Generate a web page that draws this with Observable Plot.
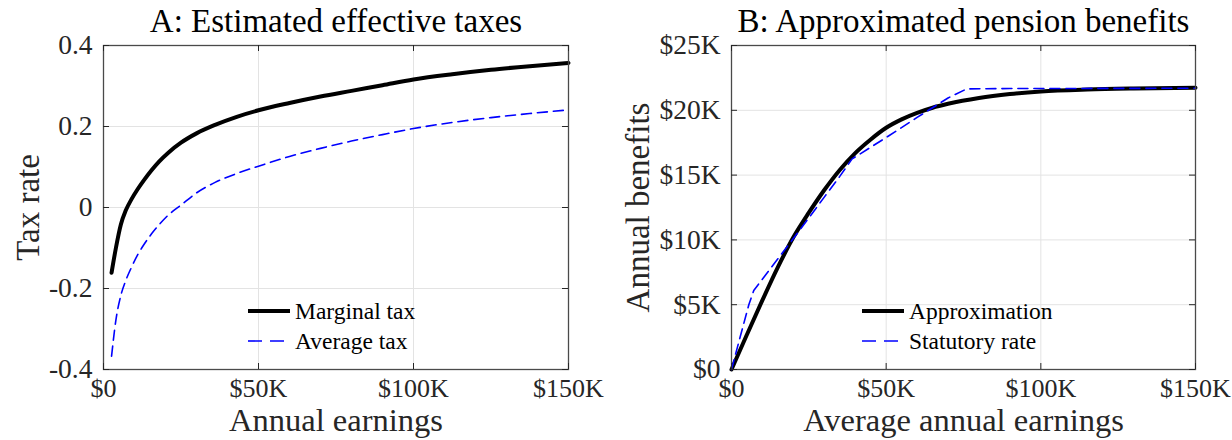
<!DOCTYPE html>
<html>
<head>
<meta charset="utf-8">
<script src="https://cdn.jsdelivr.net/npm/d3@7"></script>
<script src="https://cdn.jsdelivr.net/npm/@observablehq/plot@0.6"></script>
<style>
  html, body { margin: 0; padding: 0; background: #fff; }
  #wrap { position: relative; width: 1232px; height: 440px; overflow: hidden; font-family: "Liberation Serif", "Times New Roman", serif; }
  #wrap svg, #wrap svg text, #wrap svg g { font-family: "Liberation Serif", "Times New Roman", serif !important; }
  .panel { position: absolute; top: 0; width: 616px; height: 440px; }
  .legend { position: absolute; font-family: "Liberation Serif", serif; font-size: 23.5px; color: #000; line-height: 30px; }
  .legend .row { display: flex; align-items: center; height: 30px; }
  .legend svg { margin-right: 3px; }
</style>
</head>
<body>
<div id="wrap">
  <div id="left" class="panel" style="left:0"></div>
  <div id="right" class="panel" style="left:616px"></div>
</div>
<script>
// ---------- Panel A data ----------
const taxEarnings = [2600, 4000, 5600, 7200, 9000, 11000, 13000, 15500, 18000, 21000, 25000, 30000, 36000, 43000, 50000, 60000, 70000, 80000, 90000, 100000, 112500, 125000, 137500, 150000];
const marginalTax = [-0.161, -0.100, -0.042, -0.007, 0.020, 0.045, 0.067, 0.092, 0.114, 0.136, 0.160, 0.183, 0.204, 0.224, 0.240, 0.258, 0.274, 0.288, 0.302, 0.316, 0.329, 0.340, 0.349, 0.357];
const averageTax = [-0.367, -0.278, -0.217, -0.180, -0.148, -0.117, -0.092, -0.065, -0.042, -0.018, 0.006, 0.036, 0.062, 0.084, 0.102, 0.126, 0.146, 0.164, 0.180, 0.195, 0.210, 0.222, 0.232, 0.241];
const taxXTicks = [0, 50000, 100000, 150000];
const taxYTicks = [-0.4, -0.2, 0, 0.2, 0.4];

// ---------- Panel B data ----------
const approxEarnings = [0, 5000, 10000, 15000, 20000, 25000, 30000, 35000, 40000, 45000, 50000, 55000, 60000, 65000, 70000, 80000, 90000, 100000, 115000, 130000, 150000];
const approxBenefits = [0, 2700, 5350, 7900, 10200, 12100, 13850, 15400, 16700, 17750, 18650, 19300, 19800, 20200, 20500, 20950, 21250, 21450, 21600, 21680, 21740];
const statEarnings = [0, 2900, 5600, 7200, 10400, 15000, 20000, 25000, 30000, 35000, 39000, 50000, 60000, 70000, 76000, 90000, 150000];
const statBenefits = [0, 2600, 5000, 6100, 7100, 8550, 10100, 11700, 13300, 14900, 16250, 17900, 19450, 20950, 21650, 21680, 21700];
const benXTicks = [0, 50000, 100000, 150000];
const benYTicks = [0, 5000, 10000, 15000, 20000, 25000];

const titles = ["A: Estimated effective taxes", "B: Approximated pension benefits"];
const xLabels = ["Annual earnings", "Average annual earnings"];
const yLabels = ["Tax rate", "Annual benefits"];
const legendA = ["Marginal tax", "Average tax"];
const legendB = ["Approximation", "Statutory rate"];

const FONT = "Liberation Serif";
const AXIS = "#262626";
const GRID = "#e3e3e3";
const BLUE = "#0000ff";

const dollarK = d => d === 0 ? "$0" : "$" + (d / 1000) + "K";
const plain = d => String(d);

function panel({xTicks, yTicks, yDomain, yFmt, marginLeft, marginRight, title, xLabel, yLabel, yLabelDx, series}) {
  const W = 616, H = 440, mt = 45, mb = 71;
  const frameH = H - mt - mb;
  const frameW = W - marginLeft - marginRight;
  return Plot.plot({
    width: W, height: H,
    marginLeft, marginRight, marginTop: mt, marginBottom: mb,
    style: {fontFamily: FONT, background: "white", overflow: "visible"},
    x: {domain: [0, 150000], ticks: xTicks},
    y: {domain: yDomain, ticks: yTicks},
    marks: [
      Plot.gridX(xTicks, {stroke: GRID, strokeOpacity: 1, strokeWidth: 1}),
      Plot.gridY(yTicks, {stroke: GRID, strokeOpacity: 1, strokeWidth: 1}),
      ...series,
      Plot.frame({stroke: "#4a4a4a", strokeWidth: 1.3}),
      // inward ticks on all four sides
      Plot.tickX(xTicks, {x: d => d, stroke: AXIS, insetTop: frameH - 6}),
      Plot.tickX(xTicks, {x: d => d, stroke: AXIS, insetBottom: frameH - 6}),
      Plot.tickY(yTicks, {y: d => d, stroke: AXIS, insetRight: frameW - 6}),
      Plot.tickY(yTicks, {y: d => d, stroke: AXIS, insetLeft: frameW - 6}),
      Plot.axisX(xTicks, {tickSize: 0, tickPadding: 9, tickFormat: dollarK, fontSize: 26, fontFamily: FONT, fill: AXIS, label: null}),
      Plot.axisY(yTicks, {tickSize: 0, tickPadding: 11, tickFormat: yFmt, fontSize: 27.5, fontFamily: FONT, fill: AXIS, label: null}),
      Plot.text([title], {text: d => d, frameAnchor: "top", dy: -37, fontSize: 33, fontFamily: FONT, fill: "#000"}),
      Plot.text([xLabel], {text: d => d, frameAnchor: "bottom", dy: 61, fontSize: 32.5, fontFamily: FONT, fill: AXIS}),
      Plot.text([yLabel], {text: d => d, frameAnchor: "left", textAnchor: "middle", dx: yLabelDx, rotate: -90, fontSize: 33, fontFamily: FONT, fill: AXIS})
    ]
  });
}

const dataA = taxEarnings.map((e, i) => ({e, m: marginalTax[i], a: averageTax[i]}));
const dataApprox = approxEarnings.map((e, i) => ({e, v: approxBenefits[i]}));
const dataStat = statEarnings.map((e, i) => ({e, v: statBenefits[i]}));

const left = panel({
  xTicks: taxXTicks, yTicks: taxYTicks, yDomain: [-0.4, 0.4], yFmt: plain,
  marginLeft: 103, marginRight: 48,
  title: titles[0], xLabel: xLabels[0], yLabel: yLabels[0], yLabelDx: -75,
  series: [
    Plot.line(dataA, {x: "e", y: "a", stroke: BLUE, strokeWidth: 1.6, strokeDasharray: "10,6", curve: "monotone-x"}),
    Plot.line(dataA, {x: "e", y: "m", stroke: "#000", strokeWidth: 4, curve: "monotone-x"})
  ]
});
const right = panel({
  xTicks: benXTicks, yTicks: benYTicks, yDomain: [0, 25000], yFmt: dollarK,
  marginLeft: 115, marginRight: 37,
  title: titles[1], xLabel: xLabels[1], yLabel: yLabels[1], yLabelDx: -93,
  series: [
    Plot.line(dataApprox, {x: "e", y: "v", stroke: "#000", strokeWidth: 4, curve: "monotone-x"}),
    Plot.line(dataStat, {x: "e", y: "v", stroke: BLUE, strokeWidth: 1.6, strokeDasharray: "10,6"})
  ]
});
document.getElementById("left").appendChild(left);
document.getElementById("right").appendChild(right);

// legends (HTML overlay)
function legend(container, labels, leftPx, topPx) {
  const div = document.createElement("div");
  div.className = "legend";
  div.style.left = leftPx + "px";
  div.style.top = topPx + "px";
  const styles = [
    `<line x1="0" y1="8" x2="42" y2="8" stroke="#000" stroke-width="4"/>`,
    `<line x1="0" y1="8" x2="42" y2="8" stroke="${BLUE}" stroke-width="1.6" stroke-dasharray="14,8"/>`
  ];
  labels.forEach((lab, i) => {
    const row = document.createElement("div");
    row.className = "row";
    row.innerHTML = `<svg width="44" height="16">${styles[i]}</svg><span>${lab}</span>`;
    div.appendChild(row);
  });
  container.appendChild(div);
}
const wrap = document.getElementById("wrap");
legend(wrap, legendA, 248, 296);
legend(wrap, legendB, 862, 296);
</script>
</body>
</html>
